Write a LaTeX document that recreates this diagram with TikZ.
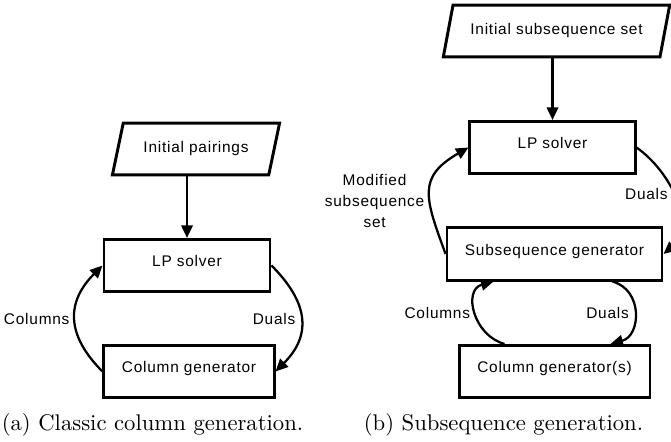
\documentclass[tikz,border=0pt]{standalone}
\usepackage{fontspec}
\newfontfamily\diagfont[LetterSpace=5]{Liberation Sans}
\usepackage{tikz}
\usetikzlibrary{calc,shapes.geometric,arrows.meta}

\tikzset{
  sans/.style={font=\diagfont\fontsize{6.8pt}{9.3pt}\selectfont},
  box/.style={sans, draw, line width=1.3pt, minimum height=23pt, inner sep=2pt, text height=5pt, text depth=4pt},
  io/.style={sans, trapezium, trapezium left angle=70, trapezium right angle=110, trapezium stretches=true, draw, line width=1.3pt, minimum height=22.9pt, inner sep=2pt},
  flow/.style={-{Triangle[length=5.5pt,width=5pt]}, line width=1pt},
  lbl/.style={sans, inner sep=2pt}
}

\begin{document}
\begin{tikzpicture}[x=0.441pt, y=0.441pt]
  \useasboundingbox (0,0) rectangle (671,442);

  % (a) classic column generation
  \node[io, minimum width=74.1pt] (initA) at (196,293) {Initial pairings};
  \node[box, minimum width=73.2pt] (lpA) at (187,176.5) {LP solver};
  \node[box, minimum width=75pt] (cgA) at (189,70.5) {Column generator};
  \draw[flow] (initA.south -| lpA.north) -- (lpA.north);
  \draw[flow] (cgA.west) to[out=135, in=225, looseness=1.25] node[lbl, left] (colsA) {Columns} (lpA.west);
  \draw[flow] (lpA.east) to[out=-45, in=45, looseness=1.25] node[lbl, left] (dualsA) {Duals} (cgA.east);
  \node (capA) at (152.5,17) {(a) Classic column generation.};

  % (b) subsequence generation
  \node[io, minimum width=100.1pt] (initB) at (556.5,411) {Initial subsequence set};
  \node[box, minimum width=72.8pt] (lpB) at (552.5,294.5) {LP solver};
  \node[box, minimum width=94.8pt] (sgB) at (554.5,188) {Subsequence generator};
  \node[box, minimum width=84.2pt] (cgB) at (554.5,70.5) {Column generator(s)};
  \draw[flow] (initB.south -| lpB.north) -- (lpB.north);
  \draw[flow] (sgB.west) to[out=110, in=210, looseness=1.4] node[lbl, left, align=center, pos=.4] (modB) {Modified\\subsequence\\set} (lpB.west);
  \draw[flow] (lpB.east) to[out=-35, in=40] node[lbl, left, pos=.45] (dualsB) {Duals} (sgB.east);
  \draw[flow] ($(cgB.north)+(-50,0)$) to[out=165, in=195, looseness=1.3] node[lbl, left] (colsB) {Columns} ($(sgB.south)+(-61,0)$);
  \draw[flow] ($(sgB.south)+(58,0)$) to[out=-15, in=15, looseness=1.3] node[lbl, left] (dualsC) {Duals} ($(cgB.north)+(56,0)$);
  \node (capB) at (503.5,17) {(b) Subsequence generation.};
\end{tikzpicture}
\end{document}
